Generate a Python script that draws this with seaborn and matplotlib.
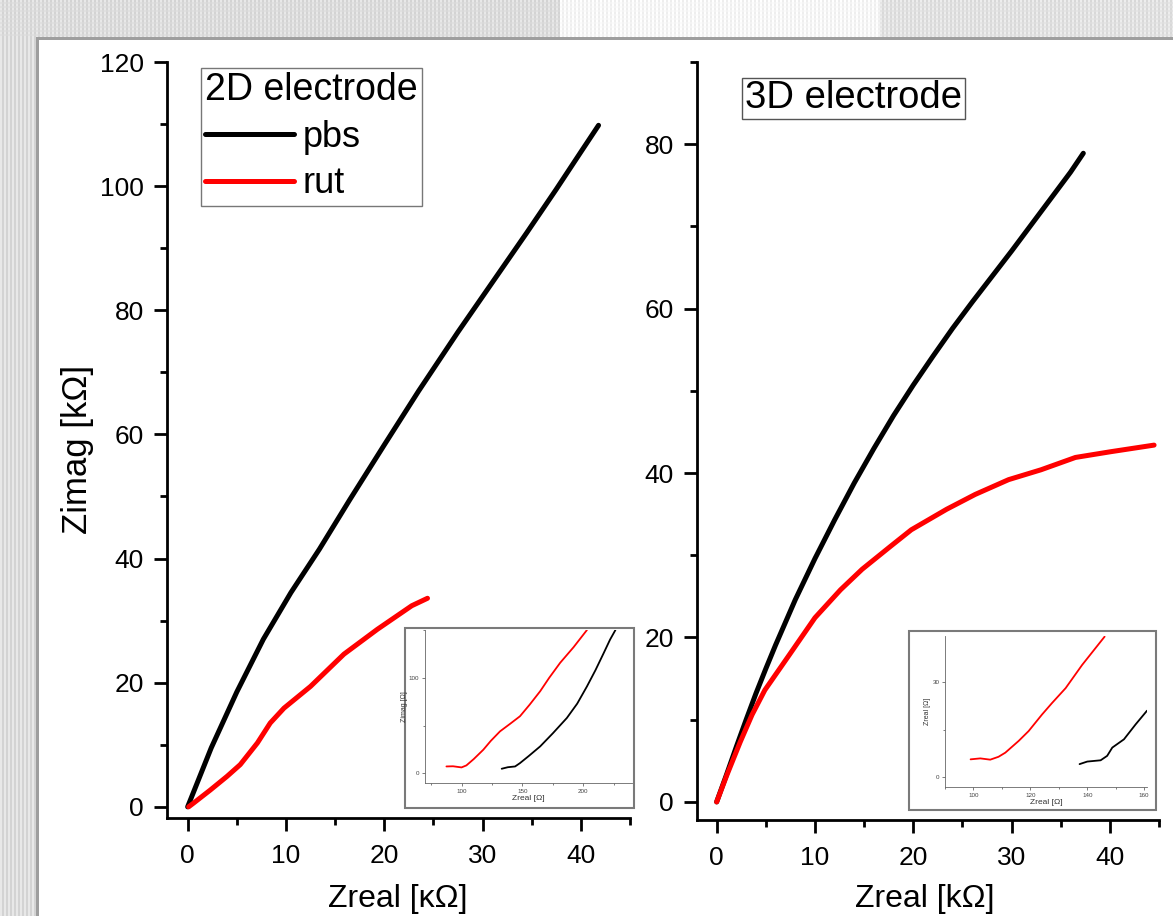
import numpy as np
import pandas as pd
import matplotlib
matplotlib.use("Agg")
import matplotlib.pyplot as plt
import seaborn as sns
from matplotlib.patches import Rectangle
from matplotlib.ticker import MultipleLocator

# ---------------- data (kOhm) ----------------
# 2D electrode
pbs2d_x = [0, 2.4, 5, 7.7, 10.5, 13.4, 16.5, 20, 23.5, 27.5, 31, 34.5, 37.5, 40, 41.8]
pbs2d_y = [0, 9.5, 18.5, 27, 34.5, 41.5, 49.5, 58.3, 67, 76.5, 84.5, 92.5, 99.5, 105.5, 109.8]
rut2d_x = [0.1, 0.6, 2.3, 4.0, 5.35, 7.1, 8.4, 9.8, 12.5, 15.9, 19.3, 22.8, 24.4]
rut2d_y = [0, 0.6, 2.7, 4.9, 6.8, 10.3, 13.5, 15.9, 19.4, 24.6, 28.6, 32.4, 33.6]
# 3D electrode
pbs3d_x = [0, 1, 2, 3, 4, 5, 6, 8, 10, 12, 14, 16, 18, 20, 22, 24, 26, 28, 30, 32, 34, 36, 37.3]
pbs3d_y = [0, 3.3, 6.7, 10, 13.2, 16.2, 19.1, 24.6, 29.6, 34.3, 38.8, 43, 47, 50.7, 54.2,
           57.6, 60.8, 63.9, 67, 70.2, 73.4, 76.6, 78.9]
rut3d_x = [0, 1.05, 2.4, 3.6, 4.9, 7.4, 10, 12.6, 14.8, 17.7, 19.8, 23.4, 26.3, 29.7, 33,
           36.5, 40.1, 44.5]
rut3d_y = [0, 3.3, 7.3, 10.6, 13.6, 17.9, 22.4, 25.8, 28.3, 31.1, 33.1, 35.6, 37.4, 39.2, 40.4,
           41.9, 42.6, 43.4]

# insets (Ohm)
in2_rut_x = [87.6, 93, 100, 104, 110, 117.9, 124, 131.6, 140, 148, 156, 164.6, 172, 181, 192, 203]
in2_rut_y = [7.3, 7.5, 6.3, 8.4, 15, 24.8, 34, 44, 52, 59.8, 72, 86, 100, 115.7, 132, 150]
in2_pbs_x = [133, 138, 144, 148, 155, 164.6, 175, 186.5, 195, 203, 210, 216.8, 222, 226.4]
in2_pbs_y = [4.9, 6.5, 7.3, 10.8, 18, 28.3, 42, 58, 73, 91, 108, 126, 140, 150]
in3_rut_x = [99, 102.4, 105.9, 108.8, 111.2, 115.9, 119.4, 124.1, 127.6, 132.4, 138.2, 146.1]
in3_rut_y = [5.7, 6.0, 5.6, 6.5, 7.8, 11.5, 14.6, 19.8, 23.4, 28.1, 35.4, 44.3]
in3_pbs_x = [137.3, 140, 144.7, 147, 148.8, 152.9, 157, 161]
in3_pbs_y = [4.2, 5.0, 5.4, 6.8, 9.4, 12.0, 16.7, 21.0]

series_names = ["pbs", "rut"]
colors = {"pbs": "#000000", "rut": "#ff0000"}


def frame(xs, ys, name):
    return pd.DataFrame({"x": xs, "y": ys, "s": name})


W, H = 1173, 916
sns.set_style("ticks")
plt.rcParams["font.family"] = ["Liberation Sans", "DejaVu Sans"]
plt.rcParams["text.color"] = "black"
plt.rcParams["axes.labelcolor"] = "black"
plt.rcParams["xtick.color"] = "black"
plt.rcParams["ytick.color"] = "black"
fig = plt.figure(figsize=(W / 100, H / 100), dpi=100)

# ---------------- slide-like background ----------------
bg = np.ones((H, W, 3))
cols = np.arange(W)
top_tone = np.where(cols < 560, 0.86, np.where(cols < 880, 0.965, 0.88))
stripe = np.where((cols // 2) % 2 == 0, 0.05, -0.03)
for r in range(0, 38):
    bg[r, :, :] = np.clip(top_tone + stripe * (1 if (r // 2) % 2 == 0 else 0.4), 0, 1)[:, None]
for c in range(0, 38):
    bg[38:, c, :] = 0.86 + (0.05 if (c // 2) % 2 == 0 else -0.03)
bg[37:40, 37:, :] = 0.62
bg[37:, 36:39, :] = 0.62
bg[40:, 39:, :] = 1.0
fig.figimage(bg, xo=0, yo=0, origin="upper", zorder=-10)


def px_rect(x0, y0, x1, y1):
    return [x0 / W, (H - y1) / H, (x1 - x0) / W, (y1 - y0) / H]


def style_main(ax, xlim, ylim, ymaj, ymin):
    ax.set_facecolor("none")
    ax.set_xlim(*xlim)
    ax.set_ylim(*ylim)
    ax.xaxis.set_major_locator(MultipleLocator(10))
    ax.xaxis.set_minor_locator(MultipleLocator(5))
    ax.yaxis.set_major_locator(MultipleLocator(ymaj))
    ax.yaxis.set_minor_locator(MultipleLocator(ymin))
    for s in ["top", "right"]:
        ax.spines[s].set_visible(False)
    for s in ["left", "bottom"]:
        ax.spines[s].set_linewidth(2.0)
        ax.spines[s].set_color("black")
    ax.tick_params(which="major", length=9.5, width=2.0, labelsize=19, color="black",
                   labelcolor="black")
    ax.tick_params(which="minor", length=5, width=2.0, color="black")
    ax.tick_params(axis="x", which="major", pad=9)
    ax.tick_params(axis="y", which="major", pad=7)
    ax.set_xlabel("")
    ax.set_ylabel("")


# ---------------- left panel (2D) ----------------
axL = fig.add_axes(px_rect(167, 62, 630, 818))
d2 = pd.concat([frame(pbs2d_x, pbs2d_y, "pbs"), frame(rut2d_x, rut2d_y, "rut")])
sns.lineplot(data=d2, x="x", y="y", hue="s", palette=colors, sort=False,
             estimator=None, linewidth=3.6, ax=axL)
style_main(axL, (-2.1, 45), (-1.8, 120), 20, 10)
handles, labels = axL.get_legend_handles_labels()
for h in handles:
    h.set_linewidth(3.6)
leg = axL.legend(handles, labels, title="2D electrode", loc="upper left",
                 bbox_to_anchor=(0.073, 0.992), borderaxespad=0, fontsize=26,
                 title_fontsize=27, frameon=True, fancybox=False, handlelength=2.45,
                 handletextpad=0.25, labelspacing=0.32, borderpad=0.12)
leg._legend_box.align = "left"
leg.get_frame().set_edgecolor("#555555")
leg.get_frame().set_linewidth(1.0)

# ---------------- right panel (3D) ----------------
axR = fig.add_axes(px_rect(697, 62, 1159, 820))
d3 = pd.concat([frame(pbs3d_x, pbs3d_y, "pbs"), frame(rut3d_x, rut3d_y, "rut")])
sns.lineplot(data=d3, x="x", y="y", hue="s", palette=colors, sort=False,
             estimator=None, linewidth=3.6, ax=axR, legend=False)
style_main(axR, (-2.0, 45), (-2.2, 90), 20, 10)
axR.text(0.104, 0.952, "3D electrode", transform=axR.transAxes, fontsize=27.5,
         ha="left", va="center",
         bbox=dict(boxstyle="square,pad=0.07", facecolor="white", edgecolor="#555555",
                   linewidth=1.0))

# axis labels
fig.text(77 / W, 1 - 449 / H, "Zimag [kΩ]", rotation=90, fontsize=25,
         ha="center", va="center")
fig.text(398 / W, 2 / H, "Zreal [κΩ]", fontsize=23, ha="center", va="bottom")
fig.text(925 / W, 2 / H, "Zreal [kΩ]", fontsize=23, ha="center", va="bottom")

# ---------------- insets ----------------
def inset(box, axbox, dframe, xlim, ylim, xmaj, xmin, ymaj, ymin, xlabel, ylabel):
    fr = Rectangle((box[0] / W, (H - box[3]) / H), (box[2] - box[0]) / W,
                   (box[3] - box[1]) / H, transform=fig.transFigure,
                   facecolor="white", edgecolor="#7a7a7a", linewidth=1.5, zorder=5)
    fig.add_artist(fr)
    ax = fig.add_axes(px_rect(*axbox))
    ax.set_zorder(6)
    ax.set_facecolor("none")
    sns.lineplot(data=dframe, x="x", y="y", hue="s", palette=colors, sort=False,
                 estimator=None, linewidth=1.3, ax=ax, legend=False)
    ax.set_xlim(*xlim)
    ax.set_ylim(*ylim)
    ax.xaxis.set_major_locator(MultipleLocator(xmaj))
    ax.xaxis.set_minor_locator(MultipleLocator(xmin))
    ax.yaxis.set_major_locator(MultipleLocator(ymaj))
    ax.yaxis.set_minor_locator(MultipleLocator(ymin))
    for s in ["top", "right"]:
        ax.spines[s].set_visible(False)
    for s in ["left", "bottom"]:
        ax.spines[s].set_linewidth(0.6)
        ax.spines[s].set_color("#666666")
    ax.tick_params(which="major", length=2.5, width=0.6, labelsize=4.5, pad=1.5,
                   color="#666666", labelcolor="#444444")
    ax.tick_params(which="minor", length=1.5, width=0.6, color="#666666")
    ax.set_xlabel(xlabel, fontsize=6, labelpad=1, color="#333333")
    ax.set_ylabel(ylabel, fontsize=5, labelpad=1, color="#333333")
    return ax


din2 = pd.concat([frame(in2_rut_x, in2_rut_y, "rut"), frame(in2_pbs_x, in2_pbs_y, "pbs")])
inset((405, 628, 634, 808), (425, 630, 632, 783), din2, (70, 240), (-10, 150),
      50, 25, 100, 50, "Zreal [Ω]", "Zimag [Ω]")
din3 = pd.concat([frame(in3_rut_x, in3_rut_y, "rut"), frame(in3_pbs_x, in3_pbs_y, "pbs")])
inset((909, 631, 1156, 810), (945, 636, 1147, 787), din3, (90, 161), (-3, 44.5),
      20, 10, 30, 15, "Zreal [Ω]", "Zreal [Ω]")

fig.savefig("out.png", dpi=100)
